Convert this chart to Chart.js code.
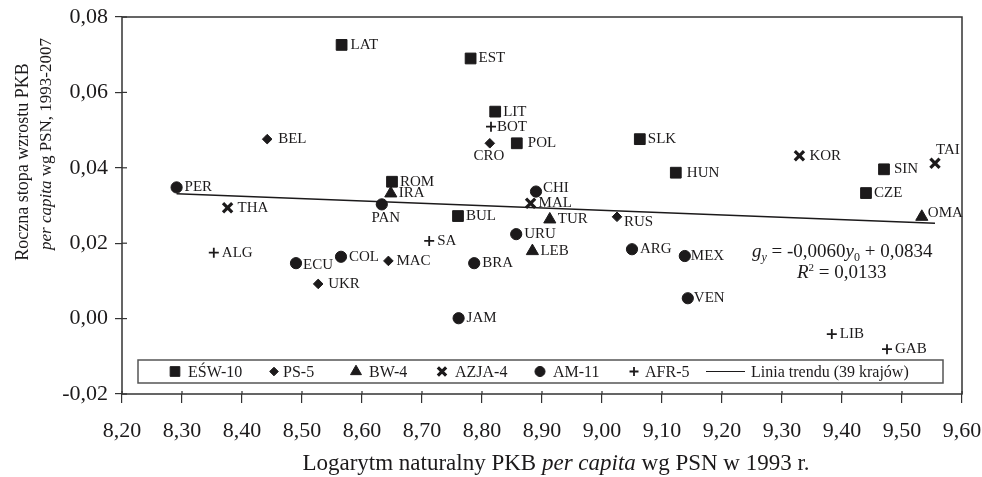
<!DOCTYPE html>
<html>
<head>
<meta charset="utf-8">
<script src="https://cdn.jsdelivr.net/npm/chart.js@4.4.0/dist/chart.umd.min.js"></script>
<style>
  html, body { margin: 0; padding: 0; background: #fff; }
</style>
</head>
<body>
<canvas id="myChart" width="982" height="477"></canvas>
<script>
// EŚW-10
const eswNames = ['LAT', 'EST', 'LIT', 'POL', 'SLK', 'HUN', 'SIN', 'CZE', 'ROM', 'BUL']
const eswX = [8.566, 8.781, 8.822, 8.858, 9.063, 9.123, 9.470, 9.440, 8.650, 8.760]
const eswY = [0.0726, 0.0690, 0.0549, 0.0465, 0.0476, 0.0387, 0.0396, 0.0333, 0.0363, 0.0272]
// PS-5
const psNames = ['BEL', 'CRO', 'RUS', 'MAC', 'UKR']
const psX = [8.442, 8.813, 9.025, 8.644, 8.527]
const psY = [0.0476, 0.0465, 0.0270, 0.0153, 0.0092]
// BW-4
const bwNames = ['IRA', 'TUR', 'LEB', 'OMA']
const bwX = [8.648, 8.913, 8.884, 9.533]
const bwY = [0.0332, 0.0263, 0.0179, 0.0270]
// AZJA-4
const azjaNames = ['THA', 'MAL', 'KOR', 'TAI']
const azjaX = [8.376, 8.881, 9.329, 9.555]
const azjaY = [0.0294, 0.0306, 0.0432, 0.0412]
// AM-11
const amNames = ['PER', 'PAN', 'CHI', 'URU', 'ECU', 'COL', 'BRA', 'JAM', 'ARG', 'MEX', 'VEN']
const amX = [8.291, 8.633, 8.890, 8.857, 8.490, 8.565, 8.787, 8.761, 9.050, 9.138, 9.143]
const amY = [0.0348, 0.0303, 0.0337, 0.0224, 0.0147, 0.0164, 0.0147, 0.0001, 0.0184, 0.0166, 0.0054]
// AFR-5
const afrNames = ['BOT', 'SA', 'ALG', 'LIB', 'GAB']
const afrX = [8.815, 8.712, 8.353, 9.383, 9.475]
const afrY = [0.0509, 0.0206, 0.0175, -0.0041, -0.0081]
// linia trendu (odczytane końce)
const trendX = [8.291, 9.555]
const trendY = [0.0331, 0.0253]

const seriesLabels = ['EŚW-10', 'PS-5', 'BW-4', 'AZJA-4', 'AM-11', 'AFR-5', 'Linia trendu (39 krajów)']
const xMin = 8.2, xMax = 9.6, xStep = 0.1
const yMin = -0.02, yMax = 0.08, yStep = 0.02

const FONT = "'Liberation Serif', 'Times New Roman', serif"
const INK = '#1c1a1b'

// etykiety nie po prawej stronie punktu
const labelPos = {
  LAT: { dx: 9 }, POL: { dx: 11 }, BEL: { dx: 11 }, HUN: { dx: 11 }, SIN: { dx: 10 },
  KOR: { dx: 10 }, UKR: { dx: 10 }, THA: { dx: 10 }, BOT: { dx: 6 },
  CHI: { dx: 7, dy: -3 }, RUS: { dx: 7, dy: 5 }, OMA: { dx: 6, dy: -4 },
  MEX: { dx: 6 }, VEN: { dx: 6 }, ECU: { dx: 7, dy: 2 },
  CRO: { dx: -1, dy: 13, align: 'center' }, PAN: { dx: 4, dy: 14, align: 'center' },
  TAI: { dx: 1, dy: -13 }
}

const toPts = (xs, ys) => xs.map((x, i) => ({ x: x, y: ys[i] }))
const fmt = v => v.toFixed(2).replace('.', ',')

function group(label, names, xs, ys, style, radius, bw) {
  return {
    label: label,
    names: names,
    data: toPts(xs, ys),
    pointStyle: style,
    pointRadius: radius,
    pointHoverRadius: radius,
    pointBorderWidth: bw,
    backgroundColor: INK,
    borderColor: INK,
    showLine: false
  }
}

// rysowanie tekstu z kursywą / indeksami
function runsWidth(ctx, runs, size) {
  let w = 0
  runs.forEach(r => {
    ctx.font = (r.italic ? 'italic ' : '') + (r.size || size) + 'px ' + FONT
    w += ctx.measureText(r.t).width
  })
  return w
}
function drawRuns(ctx, x, y, runs, size) {
  runs.forEach(r => {
    ctx.font = (r.italic ? 'italic ' : '') + (r.size || size) + 'px ' + FONT
    ctx.fillText(r.t, x, y + (r.dy || 0))
    x += ctx.measureText(r.t).width
  })
}

const noPad = s => { s.paddingLeft = 0; s.paddingRight = 0; s.paddingTop = 0; s.paddingBottom = 0 }

const extras = {
  id: 'extras',
  afterDraw(chart) {
    const ctx = chart.ctx
    const a = chart.chartArea
    ctx.save()
    ctx.fillStyle = INK
    ctx.strokeStyle = INK

    // ramka wykresu
    ctx.lineWidth = 1.5
    ctx.strokeStyle = '#333'
    ctx.strokeRect(a.left, a.top, a.right - a.left, a.bottom - a.top)
    // krótkie kreski do środka
    ctx.lineWidth = 1.2
    chart.scales.y.ticks.forEach((t, i) => {
      const py = chart.scales.y.getPixelForTick(i)
      ctx.beginPath(); ctx.moveTo(a.left, py); ctx.lineTo(a.left + 5, py); ctx.stroke()
    })
    chart.scales.x.ticks.forEach((t, i) => {
      const px = chart.scales.x.getPixelForTick(i)
      ctx.beginPath(); ctx.moveTo(px, a.bottom); ctx.lineTo(px, a.bottom - 3); ctx.stroke()
    })

    // etykiety krajów
    ctx.fillStyle = INK
    ctx.font = '15px ' + FONT
    ctx.textBaseline = 'middle'
    chart.data.datasets.forEach((ds, di) => {
      if (!ds.names) return
      const meta = chart.getDatasetMeta(di)
      ds.names.forEach((n, j) => {
        const el = meta.data[j]
        const p = labelPos[n] || {}
        ctx.textAlign = p.align || 'left'
        ctx.fillText(n, el.x + (p.dx !== undefined ? p.dx : 8), el.y + (p.dy || 0))
      })
    })

    // równanie trendu
    ctx.textAlign = 'left'
    ctx.textBaseline = 'alphabetic'
    drawRuns(ctx, 752, 257, [
      { t: 'g', italic: true },
      { t: 'y', italic: true, size: 12, dy: 4 },
      { t: ' = -0,0060' },
      { t: 'y', italic: true },
      { t: '0', size: 12, dy: 4 },
      { t: ' + 0,0834' }
    ], 19)
    drawRuns(ctx, 797, 278, [
      { t: 'R', italic: true },
      { t: '2', size: 11, dy: -7 },
      { t: ' = 0,0133' }
    ], 19)

    // legenda w ramce
    ctx.lineWidth = 1.5
    ctx.strokeStyle = '#555'
    ctx.strokeRect(138, 360, 805, 23)
    const legMark = [175, 274, 356, 442, 540, 634]
    const legText = [188, 283, 369, 455, 553, 645]
    const ly = 371.5
    ctx.strokeStyle = INK
    chart.data.datasets.forEach((ds, di) => {
      if (di < 6) {
        ctx.lineWidth = ds.pointBorderWidth
        Chart.helpers.drawPoint(ctx, {
          pointStyle: ds.pointStyle, radius: ds.pointRadius * 0.9,
          borderWidth: ds.pointBorderWidth, rotation: 0
        }, legMark[di], ly)
      }
    })
    ctx.lineWidth = 1.2
    ctx.beginPath(); ctx.moveTo(706, ly); ctx.lineTo(745, ly); ctx.stroke()
    ctx.font = '16px ' + FONT
    ctx.textBaseline = 'middle'
    chart.data.datasets.forEach((ds, di) => {
      const tx = di < 6 ? legText[di] : 751
      ctx.fillText(ds.label, tx, ly + 1)
    })

    // tytuły osi
    ctx.textBaseline = 'alphabetic'
    const xt = [
      { t: 'Logarytm naturalny PKB ' },
      { t: 'per capita', italic: true },
      { t: ' wg PSN w 1993 r.' }
    ]
    const xw = runsWidth(ctx, xt, 23)
    drawRuns(ctx, 556 - xw / 2, 470, xt, 23)

    ctx.textBaseline = 'middle'
    const yt1 = [{ t: 'Roczna stopa wzrostu PKB' }]
    const yt2 = [
      { t: 'per capita', italic: true },
      { t: ' wg PSN, 1993-2007' }
    ]
    ctx.save()
    ctx.translate(23, 162)
    ctx.rotate(-Math.PI / 2)
    drawRuns(ctx, -runsWidth(ctx, yt1, 18) / 2, 0, yt1, 18)
    ctx.restore()
    ctx.save()
    ctx.translate(47, 144)
    ctx.rotate(-Math.PI / 2)
    drawRuns(ctx, -runsWidth(ctx, yt2, 17) / 2, 0, yt2, 17)
    ctx.restore()

    ctx.restore()
  }
}

const ctx = document.getElementById('myChart').getContext('2d')
const myChart = new Chart(ctx, {
  type: 'scatter',
  data: {
    datasets: [
      group(seriesLabels[0], eswNames, eswX, eswY, 'rect', 7.6, 1),
      group(seriesLabels[1], psNames, psX, psY, 'rectRot', 4.8, 1),
      group(seriesLabels[2], bwNames, bwX, bwY, 'triangle', 7, 1),
      group(seriesLabels[3], azjaNames, azjaX, azjaY, 'crossRot', 6.5, 3.2),
      group(seriesLabels[4], amNames, amX, amY, 'circle', 5.6, 1),
      group(seriesLabels[5], afrNames, afrX, afrY, 'cross', 5, 1.8),
      {
        type: 'line',
        label: seriesLabels[6],
        data: toPts(trendX, trendY),
        borderColor: INK,
        borderWidth: 1.4,
        pointRadius: 0,
        fill: false
      }
    ]
  },
  options: {
    responsive: false,
    animation: false,
    devicePixelRatio: 1,
    layout: { padding: { top: 17, right: 20, left: 0, bottom: 0 } },
    plugins: {
      legend: { display: false },
      tooltip: { enabled: false }
    },
    scales: {
      x: {
        type: 'linear',
        min: xMin,
        max: xMax,
        afterFit: s => { s.height = 83; noPad(s) },
        border: { display: false },
        grid: { drawOnChartArea: false, tickLength: 9, color: '#333', lineWidth: 1.2 },
        ticks: {
          stepSize: xStep,
          padding: 15,
          color: INK,
          font: { family: FONT, size: 22 },
          maxRotation: 0,
          callback: v => fmt(v)
        }
      },
      y: {
        min: yMin,
        max: yMax,
        afterFit: s => { s.width = 122; noPad(s) },
        border: { display: false },
        grid: { drawOnChartArea: false, tickLength: 7, color: '#333', lineWidth: 1.2 },
        ticks: {
          stepSize: yStep,
          padding: 7,
          color: INK,
          font: { family: FONT, size: 22 },
          callback: v => fmt(v)
        }
      }
    }
  },
  plugins: [extras]
})
</script>
</body>
</html>
